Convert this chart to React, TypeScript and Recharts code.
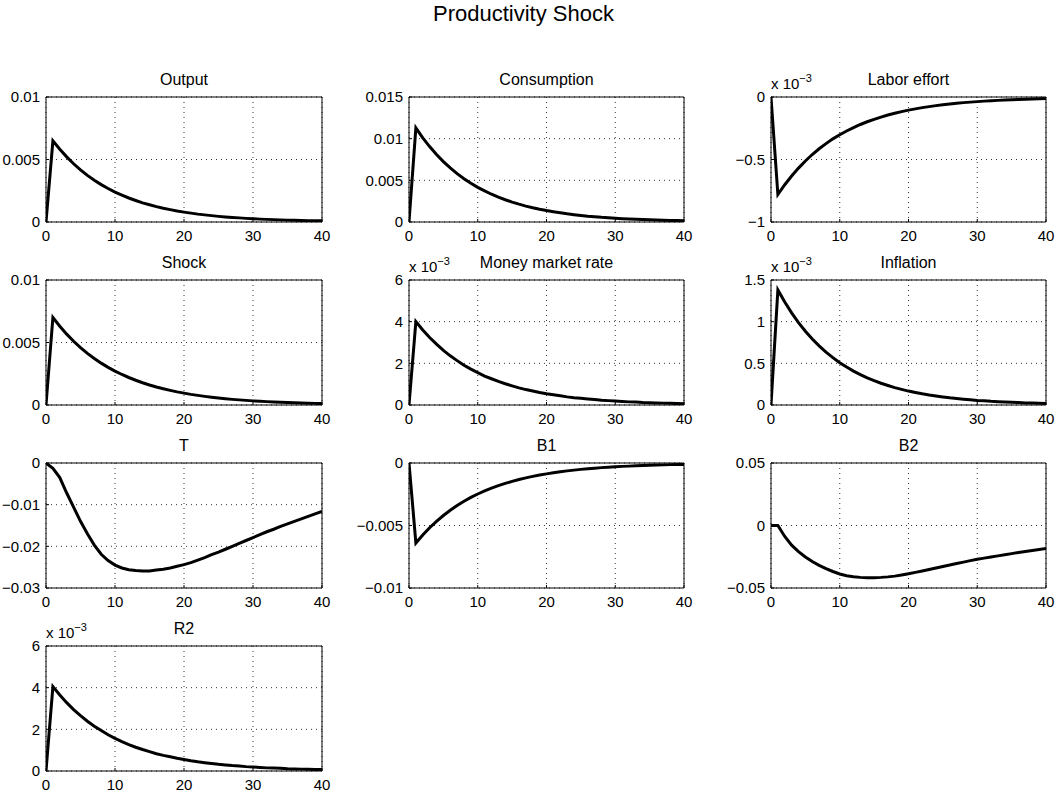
import { LineChart, Line, XAxis, YAxis, CartesianGrid, ReferenceArea } from "recharts";

const FONT = '"Liberation Sans", Arial, Helvetica, sans-serif';

// quarters after the shock
const periods = [
  0, 1, 2, 3, 4, 5, 6, 7, 8, 9, 10, 11, 12, 13, 14, 15, 16, 17, 18, 19, 20,
  21, 22, 23, 24, 25, 26, 27, 28, 29, 30, 31, 32, 33, 34, 35, 36, 37, 38, 39, 40,
];
const xTicks = [0, 10, 20, 30, 40];

// impulse responses
const output = [
  0, 0.0065, 0.00582, 0.00521, 0.00466, 0.00417, 0.00373, 0.00334, 0.00299, 0.00268, 0.00239,
  0.00215, 0.00192, 0.00172, 0.00153, 0.00138, 0.00123, 0.0011, 0.00099, 0.00088, 0.00079,
  0.00071, 0.00063, 0.00057, 0.00051, 0.00045, 0.0004, 0.00036, 0.00033, 0.00029, 0.00026,
  0.00023, 0.00021, 0.00019, 0.00017, 0.00015, 0.00014, 0.00012, 0.00011, 0.0001, 0.00009,
];
const consumption = [
  0, 0.0113, 0.0101, 0.00905, 0.0081, 0.00725, 0.00649, 0.00581, 0.0052, 0.00466, 0.00416,
  0.00373, 0.00333, 0.00298, 0.00267, 0.00239, 0.00214, 0.00191, 0.00171, 0.00153, 0.00137,
  0.00123, 0.0011, 0.00098, 0.00088, 0.00079, 0.0007, 0.00063, 0.00056, 0.00051, 0.00045,
  0.0004, 0.00036, 0.00033, 0.00029, 0.00026, 0.00023, 0.00021, 0.00018, 0.00017, 0.00015,
];
// x 10^-3
const laborEffort = [
  0, -0.78, -0.702, -0.632, -0.569, -0.512, -0.46, -0.414, -0.373, -0.335, -0.302,
  -0.272, -0.245, -0.22, -0.198, -0.179, -0.161, -0.144, -0.13, -0.117, -0.105,
  -0.095, -0.085, -0.077, -0.069, -0.062, -0.056, -0.05, -0.045, -0.041, -0.037,
  -0.033, -0.03, -0.027, -0.024, -0.022, -0.02, -0.018, -0.016, -0.014, -0.012,
];
const shock = [
  0, 0.007, 0.0063, 0.00567, 0.0051, 0.00459, 0.00413, 0.00372, 0.00335, 0.00301, 0.00271,
  0.00244, 0.0022, 0.00198, 0.00178, 0.0016, 0.00144, 0.0013, 0.00117, 0.00105, 0.00095,
  0.00085, 0.00077, 0.00069, 0.00062, 0.00056, 0.0005, 0.00045, 0.00041, 0.00037, 0.00033,
  0.0003, 0.00027, 0.00024, 0.00022, 0.0002, 0.00018, 0.00016, 0.00014, 0.00013, 0.00011,
];
// x 10^-3
const moneyMarketRate = [
  0, 4, 3.6, 3.24, 2.92, 2.62, 2.36, 2.13, 1.91, 1.72, 1.55,
  1.39, 1.26, 1.13, 1.02, 0.92, 0.82, 0.74, 0.67, 0.6, 0.54,
  0.49, 0.44, 0.39, 0.35, 0.32, 0.29, 0.26, 0.23, 0.21, 0.19,
  0.17, 0.15, 0.14, 0.12, 0.11, 0.1, 0.09, 0.08, 0.07, 0.06,
];
// x 10^-3
const inflation = [
  0, 1.38, 1.235, 1.105, 0.989, 0.886, 0.792, 0.709, 0.635, 0.569, 0.508,
  0.455, 0.407, 0.364, 0.326, 0.292, 0.261, 0.234, 0.209, 0.188, 0.167,
  0.15, 0.134, 0.12, 0.108, 0.097, 0.086, 0.077, 0.069, 0.062, 0.055,
  0.05, 0.044, 0.04, 0.036, 0.032, 0.029, 0.025, 0.023, 0.02, 0.018,
];
const tSeries = [
  0, -0.0013, -0.0035, -0.0072, -0.0106, -0.014, -0.017, -0.0197, -0.0219, -0.0234, -0.0245,
  -0.0252, -0.0256, -0.0258, -0.0259, -0.0259, -0.0257, -0.0255, -0.0252, -0.0248, -0.0244,
  -0.0239, -0.0233, -0.0227, -0.022, -0.0214, -0.0207, -0.02, -0.0193, -0.0186, -0.0179,
  -0.0172, -0.0165, -0.0159, -0.0152, -0.0146, -0.014, -0.0134, -0.0128, -0.0122, -0.0116,
];
const b1 = [
  0, -0.0064, -0.00576, -0.00518, -0.00467, -0.0042, -0.00378, -0.0034, -0.00306, -0.00275, -0.00248,
  -0.00223, -0.00201, -0.00181, -0.00163, -0.00147, -0.00132, -0.00119, -0.00107, -0.00096, -0.00087,
  -0.00078, -0.0007, -0.00063, -0.00057, -0.00051, -0.00046, -0.00042, -0.00037, -0.00034, -0.0003,
  -0.00027, -0.00025, -0.00022, -0.0002, -0.00018, -0.00016, -0.00015, -0.00013, -0.00012, -0.00011,
];
const b2 = [
  0, 0, -0.0088, -0.0157, -0.0209, -0.0252, -0.0288, -0.0319, -0.0345, -0.0368, -0.0388,
  -0.0402, -0.041, -0.0415, -0.0417, -0.0417, -0.0415, -0.0411, -0.0405, -0.0396, -0.0386,
  -0.0375, -0.0364, -0.0352, -0.034, -0.0328, -0.0316, -0.0304, -0.0293, -0.0281, -0.027,
  -0.0261, -0.0252, -0.0243, -0.0234, -0.0225, -0.0216, -0.0208, -0.02, -0.0192, -0.0184,
];
// x 10^-3
const r2 = [
  0, 4.05, 3.65, 3.28, 2.95, 2.66, 2.39, 2.15, 1.94, 1.74, 1.57,
  1.41, 1.27, 1.14, 1.03, 0.93, 0.83, 0.75, 0.68, 0.61, 0.55,
  0.49, 0.44, 0.4, 0.36, 0.32, 0.29, 0.26, 0.24, 0.21, 0.19,
  0.17, 0.15, 0.14, 0.13, 0.11, 0.1, 0.09, 0.08, 0.07, 0.07,
];

const titles = ["Output", "Consumption", "Labor effort", "Shock", "Money market rate", "Inflation", "T", "B1", "B2", "R2"];
const series = [output, consumption, laborEffort, shock, moneyMarketRate, inflation, tSeries, b1, b2, r2];
const yTickSets = [
  [0, 0.005, 0.01],
  [0, 0.005, 0.01, 0.015],
  [-1, -0.5, 0],
  [0, 0.005, 0.01],
  [0, 2, 4, 6],
  [0, 0.5, 1, 1.5],
  [-0.03, -0.02, -0.01, 0],
  [-0.01, -0.005, 0],
  [-0.05, 0, 0.05],
  [0, 2, 4, 6],
];
const scaled = [false, false, true, false, true, true, false, false, false, true];

// subplot geometry (pixels)
const colLeft = [46, 409, 771];
const colWidth = [276, 275, 275];
const rowTop = [97, 280, 463, 646];
const plotH = 125;
const Y_W = 60;
const M_TOP = 20;
const M_RIGHT = 10;
const X_H = 30;

const fmt = (v: number) => String(v).replace("-", "\u2212");
const tickStyle = { fill: "#000", fontSize: 15, fontFamily: FONT };

function Panel({ idx }: { idx: number }) {
  const col = idx % 3;
  const row = Math.floor(idx / 3);
  const left = colLeft[col];
  const top = rowTop[row];
  const w = colWidth[col];
  const values = series[idx];
  const yTicks = yTickSets[idx];
  const yMin = yTicks[0];
  const yMax = yTicks[yTicks.length - 1];
  const data = periods.map((p, i) => ({ period: p, value: values[i] }));

  return (
    <div style={{ position: "absolute", left: left - Y_W, top: top - M_TOP }}>
      <LineChart
        width={w + Y_W + M_RIGHT}
        height={plotH + M_TOP + X_H}
        data={data}
        margin={{ top: M_TOP, right: M_RIGHT, bottom: 0, left: 0 }}
      >
        <CartesianGrid stroke="#333" strokeDasharray="1 4" />
        <XAxis
          dataKey="period"
          type="number"
          domain={[0, 40]}
          ticks={xTicks}
          interval={0}
          height={X_H}
          axisLine={false}
          tickLine={{ stroke: "#000" }}
          tickSize={-3}
          tickMargin={11}
          tick={tickStyle}
          allowDataOverflow
        />
        <XAxis
          xAxisId="top"
          orientation="top"
          dataKey="period"
          type="number"
          domain={[0, 40]}
          ticks={xTicks}
          interval={0}
          height={0}
          axisLine={false}
          tickLine={{ stroke: "#000" }}
          tickSize={-3}
          tickFormatter={() => ""}
          allowDataOverflow
        />
        <YAxis
          type="number"
          domain={[yMin, yMax]}
          ticks={yTicks}
          interval={0}
          width={Y_W}
          axisLine={false}
          tickLine={{ stroke: "#000" }}
          tickSize={-3}
          tickMargin={9}
          tick={tickStyle}
          tickFormatter={fmt}
          allowDataOverflow
        />
        <YAxis
          yAxisId="right"
          orientation="right"
          dataKey="value"
          type="number"
          domain={[yMin, yMax]}
          ticks={yTicks}
          interval={0}
          width={0}
          axisLine={false}
          tickLine={{ stroke: "#000" }}
          tickSize={-3}
          tickFormatter={() => ""}
          allowDataOverflow
        />
        <ReferenceArea x1={0} x2={40} y1={yMin} y2={yMax} fill="none" stroke="#000" strokeWidth={1} />
        <Line
          dataKey="value"
          type="linear"
          stroke="#000"
          strokeWidth={3}
          dot={false}
          activeDot={false}
          isAnimationActive={false}
        />
      </LineChart>
    </div>
  );
}

export default function App() {
  return (
    <div
      style={{
        position: "absolute",
        left: 0,
        top: 0,
        width: 1057,
        height: 795,
        background: "#fff",
        overflow: "hidden",
        fontFamily: FONT,
      }}
    >
      {titles.map((_, i) => (
        <Panel key={i} idx={i} />
      ))}
      <svg width={1057} height={795} style={{ position: "absolute", left: 0, top: 0, pointerEvents: "none" }}>
        <text x={523.5} y={21} textAnchor="middle" fontSize={22} fontFamily={FONT} fill="#000">
          Productivity Shock
        </text>
        {titles.map((t, i) => {
          const col = i % 3;
          const row = Math.floor(i / 3);
          const left = colLeft[col];
          const top = rowTop[row];
          return (
            <g key={t}>
              <text x={left + colWidth[col] / 2} y={top - 12} textAnchor="middle" fontSize={16} fontFamily={FONT} fill="#000">
                {t}
              </text>
              {scaled[i] && (
                <text x={left} y={top - 8} fontSize={15} fontFamily={FONT} fill="#000">
                  x 10
                  <tspan dy={-7} fontSize={11}>
                    {"\u22123"}
                  </tspan>
                </text>
              )}
            </g>
          );
        })}
      </svg>
    </div>
  );
}
